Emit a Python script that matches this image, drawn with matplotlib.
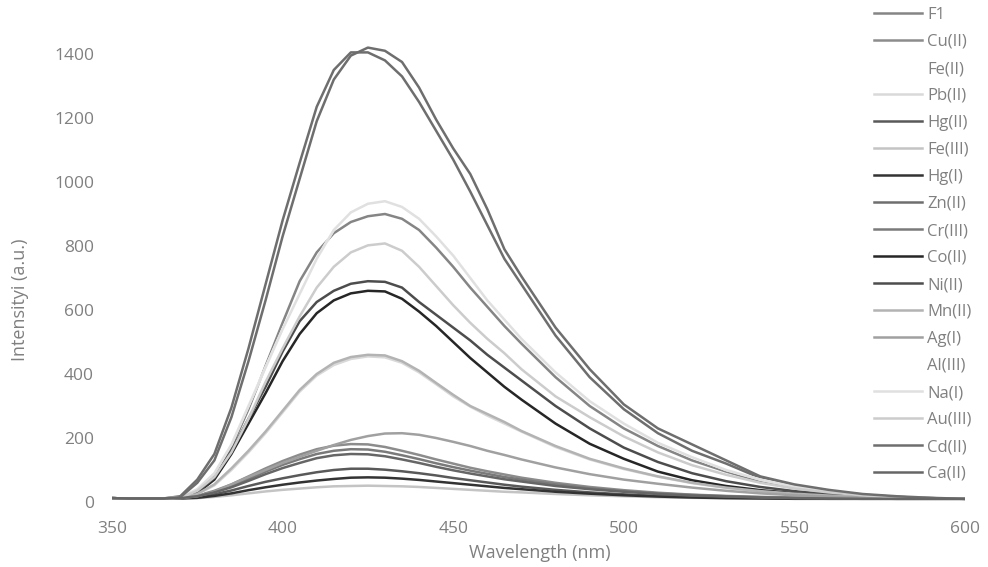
import matplotlib
matplotlib.use("Agg")
import matplotlib.pyplot as plt

# wavelength grid (nm)
wavelength = [350, 355, 360, 365, 370, 375, 380, 385, 390, 395, 400, 405, 410, 415,
              420, 425, 430, 435, 440, 445, 450, 455, 460, 465, 470,
              480, 490, 500, 510, 520, 530, 540, 550, 560, 570, 580, 590, 600]

# emission intensities (a.u.)
f1 = [12, 11, 11, 11, 14, 38, 85, 170, 290, 425, 560, 690, 780, 840, 875, 893, 900, 885, 850, 795, 735,
      670, 610, 550, 495, 390, 300, 230, 175, 130, 95, 65, 45, 31, 22, 16, 12, 10]
cu2 = [12, 11, 11, 11, 12, 20, 35, 55, 80, 105, 128, 148, 165, 176, 181, 180, 172, 160, 147, 133, 120,
       107, 96, 86, 76, 60, 47, 37, 29, 23, 19, 16, 14, 12, 11, 10, 10, 10]
fe2 = [12, 11, 11, 11, 12, 24, 52, 100, 156, 216, 281, 346, 396, 429, 448, 455, 452, 435, 405, 368, 331,
       298, 270, 245, 220, 172, 133, 103, 79, 59, 44, 33, 25, 19, 15, 13, 11, 10]
pb2 = [12, 11, 11, 11, 12, 24, 52, 100, 155, 215, 280, 345, 395, 428, 447, 455, 452, 435, 405, 368, 330,
       298, 270, 245, 220, 172, 133, 103, 79, 59, 44, 33, 25, 19, 15, 13, 11, 10]
hg2 = [12, 11, 11, 11, 12, 15, 24, 36, 50, 63, 74, 84, 93, 100, 104, 104, 101, 96, 90, 83, 75,
       68, 61, 54, 48, 38, 30, 24, 19, 16, 14, 12, 11, 10, 10, 10, 10, 10]
fe3 = [12, 11, 11, 11, 11, 12, 16, 21, 27, 33, 38, 42, 46, 49, 50, 51, 50, 49, 47, 44, 41,
       38, 35, 32, 30, 25, 21, 18, 15, 13, 12, 11, 10, 10, 10, 10, 10, 10]
hg1 = [12, 11, 11, 11, 11, 13, 19, 27, 37, 46, 54, 61, 67, 72, 76, 77, 76, 73, 69, 64, 59,
       54, 49, 44, 40, 32, 26, 21, 17, 14, 12, 11, 10, 10, 10, 10, 10, 10]
zn2 = [12, 11, 11, 11, 18, 70, 150, 295, 480, 680, 880, 1060, 1235, 1350, 1405, 1405, 1380, 1330, 1250, 1160, 1070,
       970, 865, 760, 680, 520, 390, 290, 215, 160, 120, 75, 50, 35, 23, 16, 12, 10]
cr3 = [12, 11, 11, 11, 12, 19, 32, 50, 72, 95, 116, 134, 150, 160, 165, 164, 157, 146, 134, 121, 109,
       98, 88, 78, 70, 55, 43, 34, 27, 22, 18, 15, 13, 12, 11, 10, 10, 10]
co2 = [12, 11, 11, 11, 12, 28, 70, 150, 245, 340, 440, 525, 590, 630, 652, 660, 658, 635, 595, 550, 500,
       450, 405, 360, 320, 245, 182, 135, 95, 68, 50, 37, 28, 21, 16, 13, 11, 10]
ni2 = [12, 11, 11, 11, 12, 30, 75, 160, 260, 360, 470, 565, 625, 660, 682, 690, 688, 670, 625, 585, 545,
       505, 460, 420, 380, 300, 230, 170, 125, 90, 65, 47, 34, 25, 19, 14, 12, 10]
mn2 = [12, 11, 11, 11, 12, 25, 55, 105, 160, 220, 285, 350, 400, 435, 453, 460, 458, 440, 410, 372, 335,
       300, 275, 250, 222, 175, 135, 105, 80, 60, 45, 34, 26, 20, 16, 13, 11, 10]
ag1 = [12, 11, 11, 11, 12, 18, 32, 55, 78, 100, 122, 141, 160, 178, 194, 206, 214, 215, 210, 200, 188,
       175, 160, 147, 133, 108, 87, 70, 57, 45, 35, 27, 21, 17, 14, 12, 11, 10]
al3 = [12, 11, 11, 11, 14, 40, 90, 180, 300, 421, 541, 651, 761, 851, 906, 933, 940, 922, 885, 830, 770,
       700, 630, 570, 510, 405, 315, 245, 185, 140, 100, 70, 48, 33, 23, 16, 12, 10]
na1 = [12, 11, 11, 11, 14, 40, 90, 180, 300, 420, 540, 650, 760, 850, 905, 932, 940, 922, 885, 830, 770,
       700, 630, 570, 510, 405, 315, 245, 185, 140, 100, 70, 48, 33, 23, 16, 12, 10]
au3 = [12, 11, 11, 11, 13, 35, 78, 155, 260, 375, 480, 580, 670, 735, 780, 802, 808, 785, 735, 675, 615,
       560, 510, 465, 415, 330, 265, 205, 155, 115, 85, 60, 42, 30, 21, 15, 12, 10]
cd2 = [12, 11, 11, 11, 15, 60, 130, 265, 440, 630, 830, 1010, 1190, 1320, 1395, 1420, 1410, 1375, 1295, 1195, 1105,
       1025, 915, 790, 705, 545, 415, 305, 230, 180, 130, 80, 55, 38, 25, 18, 13, 10]
ca2 = [12, 11, 11, 11, 12, 18, 30, 46, 66, 87, 106, 122, 137, 146, 150, 149, 143, 133, 122, 110, 99,
       89, 80, 71, 64, 50, 40, 32, 25, 20, 17, 14, 12, 11, 10, 10, 10, 10]

labels = ["F1", "Cu(II)", "Fe(II)", "Pb(II)", "Hg(II)", "Fe(III)", "Hg(I)", "Zn(II)", "Cr(III)",
          "Co(II)", "Ni(II)", "Mn(II)", "Ag(I)", "Al(III)", "Na(I)", "Au(III)", "Cd(II)", "Ca(II)"]
series = [f1, cu2, fe2, pb2, hg2, fe3, hg1, zn2, cr3, co2, ni2, mn2, ag1, al3, na1, au3, cd2, ca2]
colors = ["#858585", "#8c8c8c", "#ffffff", "#d9d9d9", "#595959", "#c4c4c4", "#333333", "#6e6e6e", "#7a7a7a",
          "#262626", "#4d4d4d", "#b3b3b3", "#a0a0a0", "#ffffff", "#e0e0e0", "#cccccc", "#6e6e6e", "#666666"]

plt.rcParams['font.family'] = ['Open Sans', 'DejaVu Sans']
text_color = "#808080"

fig = plt.figure(figsize=(9.88, 5.67), dpi=100)
ax = fig.add_axes([112 / 988, 1 - 502 / 567, (965 - 112) / 988, 464 / 567])

for y, lab, c in zip(series, labels, colors):
    ax.plot(wavelength, y, color=c, linewidth=1.8, label=lab)

ax.set_xlim(350, 600)
ax.set_ylim(0, 1450)
ax.set_xticks([350, 400, 450, 500, 550, 600])
ax.set_yticks(range(0, 1401, 200))
ax.tick_params(length=0, labelsize=12.5, labelcolor=text_color)
ax.tick_params(axis='x', pad=14)
ax.tick_params(axis='y', pad=13)
for s in ax.spines.values():
    s.set_visible(False)

fig.text(540 / 988, 1 - 553 / 567, "Wavelength (nm)", ha='center', va='center',
         fontsize=13, color=text_color)
fig.text(20 / 988, 1 - 300 / 567, "Intensityi (a.u.)", ha='center', va='center',
         rotation=90, fontsize=13, color=text_color)

fig.legend(loc='upper left', bbox_to_anchor=(874 / 988, 1 - 7 / 567), frameon=False,
           fontsize=12, labelcolor=text_color, handlelength=2.9, handletextpad=0.3,
           labelspacing=0.66, borderpad=0, borderaxespad=0)

fig.savefig("out.png", dpi=100)
